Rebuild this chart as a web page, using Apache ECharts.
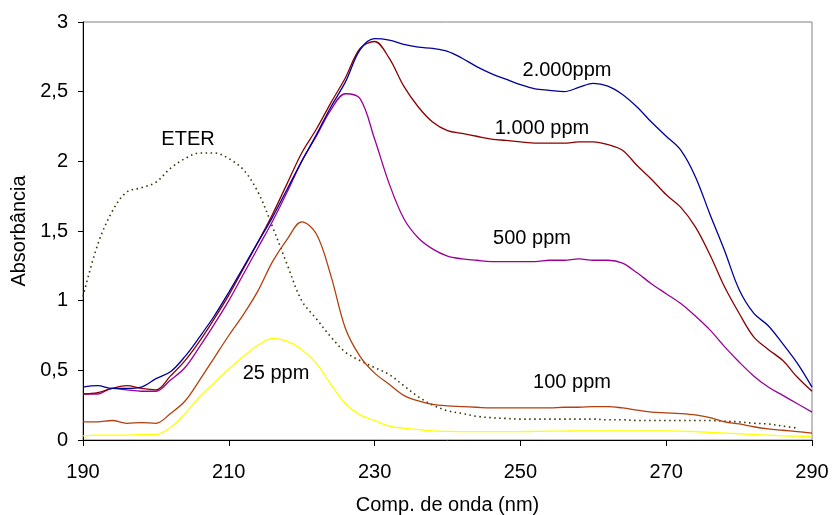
<!DOCTYPE html>
<html>
<head>
<meta charset="utf-8">
<script src="https://cdn.jsdelivr.net/npm/echarts@6/dist/echarts.min.js"></script>
<style>
  html, body { margin: 0; padding: 0; background: #fff; }
  #main { width: 832px; height: 515px; }
</style>
</head>
<body>
<div id="main"></div>
<script>
// comprimento de onda (nm)
var wl = [];
for (var w = 190; w <= 290; w += 2) wl.push(w);

var xTicks = [190, 210, 230, 250, 270, 290];
var yTicks = [0, 0.5, 1, 1.5, 2, 2.5, 3];

var ppm2000 = [0.38,0.39,0.37,0.37,0.38,0.44,0.49,0.60,0.74,0.89,1.06,1.24,1.42,1.60,1.80,2.00,2.19,2.39,2.57,2.80,
  2.88,2.87,2.84,2.82,2.81,2.79,2.74,2.68,2.63,2.59,2.55,2.52,2.51,2.50,2.53,2.56,2.54,2.48,2.39,2.28,
  2.18,2.08,1.89,1.62,1.36,1.08,0.91,0.82,0.69,0.55,0.38];
var ppm1000 = [0.33,0.34,0.37,0.39,0.37,0.36,0.46,0.57,0.71,0.87,1.04,1.23,1.42,1.62,1.84,2.06,2.23,2.42,2.60,2.81,
  2.86,2.74,2.54,2.39,2.28,2.22,2.20,2.18,2.16,2.15,2.14,2.13,2.13,2.13,2.14,2.14,2.12,2.08,1.97,1.87,
  1.76,1.67,1.53,1.33,1.10,0.91,0.74,0.65,0.57,0.45,0.35];
var ppm500 = [0.33,0.33,0.37,0.36,0.35,0.35,0.43,0.52,0.67,0.83,1.00,1.19,1.38,1.57,1.78,2.00,2.18,2.37,2.485,2.45,
  2.16,1.84,1.59,1.45,1.37,1.32,1.30,1.29,1.28,1.28,1.28,1.28,1.29,1.29,1.30,1.29,1.29,1.27,1.20,1.12,
  1.05,0.98,0.89,0.79,0.67,0.56,0.46,0.38,0.32,0.26,0.20];
var ppm100 = [0.13,0.13,0.14,0.12,0.125,0.12,0.19,0.28,0.43,0.59,0.75,0.90,1.07,1.28,1.44,1.565,1.48,1.18,0.80,0.60,
  0.48,0.40,0.32,0.28,0.255,0.245,0.24,0.235,0.23,0.23,0.23,0.23,0.23,0.235,0.235,0.24,0.24,0.23,0.215,0.20,
  0.195,0.19,0.18,0.16,0.13,0.115,0.095,0.08,0.07,0.06,0.05];
var ppm25 = [0.03,0.035,0.035,0.035,0.04,0.04,0.09,0.19,0.31,0.41,0.51,0.60,0.68,0.73,0.71,0.65,0.55,0.40,0.26,0.18,
  0.14,0.10,0.085,0.075,0.065,0.062,0.06,0.06,0.06,0.06,0.06,0.062,0.063,0.064,0.065,0.065,0.065,0.065,0.065,0.065,
  0.065,0.064,0.06,0.055,0.05,0.045,0.04,0.035,0.03,0.028,0.025];
var eter = [1.03,1.40,1.64,1.78,1.81,1.85,1.95,2.02,2.06,2.06,2.02,1.94,1.78,1.53,1.26,1.00,0.87,0.74,0.63,0.57,
  0.52,0.47,0.39,0.31,0.25,0.21,0.19,0.17,0.16,0.155,0.15,0.15,0.15,0.15,0.15,0.15,0.145,0.145,0.14,0.14,
  0.14,0.14,0.14,0.14,0.135,0.13,0.12,0.115,0.10,0.085,null];

var labels = [
  { text: 'ETER', x: 188, y: 139 },
  { text: '2.000ppm', x: 567, y: 70 },
  { text: '1.000 ppm', x: 542, y: 128 },
  { text: '500 ppm', x: 532, y: 238 },
  { text: '25 ppm', x: 276, y: 373 },
  { text: '100 ppm', x: 572, y: 382 }
];

function pairs(vals) {
  return wl.map(function (x, i) { return [x, vals[i]]; });
}

function linha(nome, vals, cor, tipo) {
  return {
    name: nome,
    type: 'line',
    data: pairs(vals),
    smooth: 0.35,
    showSymbol: false,
    connectNulls: false,
    lineStyle: { color: cor, width: tipo ? 1.6 : 1.3, type: tipo || 'solid' },
    z: tipo ? 1 : 2,
    animation: false
  };
}

var myChart = echarts.init(document.getElementById('main'));
var fonte = 'Liberation Sans, Arial, sans-serif';

myChart.setOption({
  backgroundColor: '#fff',
  animation: false,
  grid: {
    left: 83, right: 20, top: 22, bottom: 75,
    outerBoundsMode: 'none',
    show: true, borderColor: '#808080', borderWidth: 1
  },
  xAxis: {
    type: 'value',
    min: 190, max: 290, interval: 20,
    name: 'Comp. de onda (nm)',
    nameLocation: 'middle',
    nameGap: 55,
    nameTextStyle: { fontFamily: fonte, fontSize: 20, color: '#000' },
    axisLine: { lineStyle: { color: '#000', width: 1 } },
    axisTick: { show: true, length: 6, lineStyle: { color: '#000' } },
    axisLabel: {
      fontFamily: fonte, fontSize: 20, color: '#000', margin: 22,
      formatter: function (v) { return xTicks.indexOf(v) >= 0 ? String(v) : ''; }
    },
    splitLine: { show: false }
  },
  yAxis: {
    type: 'value',
    min: 0, max: 3, interval: 0.5,
    name: 'Absorbância',
    nameLocation: 'middle',
    nameGap: 53,
    nameTextStyle: { fontFamily: fonte, fontSize: 20, color: '#000' },
    axisLine: { show: true, lineStyle: { color: '#000', width: 1 } },
    axisTick: { show: true, length: 5, lineStyle: { color: '#000' } },
    axisLabel: {
      fontFamily: fonte, fontSize: 20, color: '#000', margin: 15,
      formatter: function (v) { return yTicks.indexOf(v) >= 0 ? String(v).replace('.', ',') : ''; }
    },
    splitLine: { show: false }
  },
  series: [
    linha('ETER', eter, '#333300', [1.5, 3.5]),
    linha('25 ppm', ppm25, '#ffff00'),
    linha('100 ppm', ppm100, '#b0400c'),
    linha('500 ppm', ppm500, '#990099'),
    linha('1.000 ppm', ppm1000, '#8b0000'),
    linha('2.000ppm', ppm2000, '#000099')
  ],
  graphic: labels.map(function (l) {
    return {
      type: 'text', x: l.x, y: l.y, z: 10,
      style: {
        text: l.text, fill: '#000', fontFamily: fonte, fontSize: 20,
        textAlign: 'center', textVerticalAlign: 'middle'
      }
    };
  })
});
</script>
</body>
</html>
